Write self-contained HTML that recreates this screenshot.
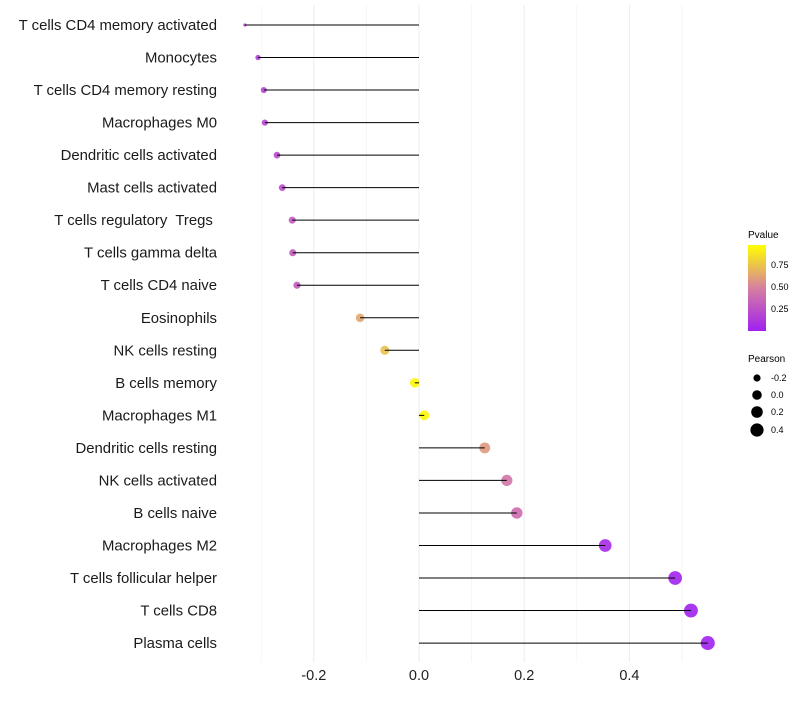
<!DOCTYPE html>
<html><head><meta charset="utf-8"><style>
body{margin:0;background:#fff;font-family:"Liberation Sans",sans-serif}
text{white-space:pre}
</style></head><body>
<svg id="chart" width="800" height="700" xmlns="http://www.w3.org/2000/svg">
<defs><linearGradient id="pg" x1="0" y1="1" x2="0" y2="0">
<stop offset="0" stop-color="#a020f0"/><stop offset="0.5" stop-color="#d680a0"/><stop offset="1" stop-color="#ffff00"/></linearGradient></defs>
<g id="grid"></g><g id="marks"></g><g id="labels"></g>
<g font-size="9">
<text x="748" y="238" font-size="10">Pvalue</text>
<rect x="748" y="245" width="18" height="86" fill="url(#pg)"/>
<text x="771" y="268">0.75</text>
<text x="771" y="290">0.50</text>
<text x="771" y="312">0.25</text>
</g>
<g font-size="9">
<text x="748" y="362" font-size="10">Pearson</text>
<circle cx="757" cy="378" r="3.6" fill="#000"/><text x="771" y="381">-0.2</text>
<circle cx="757" cy="395" r="4.8"/><text x="771" y="398">0.0</text>
<circle cx="757" cy="412" r="5.8"/><text x="771" y="415">0.2</text>
<circle cx="757" cy="430" r="6.6"/><text x="771" y="433">0.4</text>
</g>
</svg>
<script>
const cells=["T cells CD4 memory activated","Monocytes","T cells CD4 memory resting","Macrophages M0","Dendritic cells activated","Mast cells activated","T cells regulatory  Tregs ","T cells gamma delta","T cells CD4 naive","Eosinophils","NK cells resting","B cells memory","Macrophages M1","Dendritic cells resting","NK cells activated","B cells naive","Macrophages M2","T cells follicular helper","T cells CD8","Plasma cells"];
const pearson=[-0.331,-0.306,-0.295,-0.293,-0.270,-0.260,-0.241,-0.240,-0.232,-0.112,-0.065,-0.008,0.010,0.125,0.167,0.186,0.354,0.487,0.517,0.549];
const pvalue=[0.18,0.15,0.2,0.2,0.22,0.24,0.3,0.3,0.3,0.65,0.75,0.97,0.97,0.6,0.45,0.4,0.05,0.02,0.01,0.01];
const xTicks=[-0.2,0,0.2,0.4];
const xTickLabels=["-0.2","0.0","0.2","0.4"];
const minorTicks=[-0.3,-0.1,0.1,0.3,0.5];
const NS="http://www.w3.org/2000/svg";
const x=v=>419+v*526;
const y=i=>25+i*32.53;
const rad=v=>Math.sqrt(Math.max(2,23.8+47*v-Math.max(0,-0.29-v)*140));
function lerp(a,b,t){return a.map((c,i)=>Math.round(c+(b[i]-c)*t));}
function col(p){const s=[[160,32,240],[214,128,160],[255,255,0]];const c=p<0.5?lerp(s[0],s[1],p/0.5):lerp(s[1],s[2],(p-0.5)/0.5);return `rgb(${c})`;}
function mk(t,a,parent){const e=document.createElementNS(NS,t);for(const k in a)e.setAttribute(k,a[k]);parent.appendChild(e);return e;}
const grid=document.getElementById('grid'),marks=document.getElementById('marks'),labels=document.getElementById('labels');
minorTicks.forEach(v=>{const l=mk('line',{x1:x(v),x2:x(v),y1:5,y2:662,stroke:'#f0f0f0','stroke-width':0.6},grid);

});
xTicks.forEach((v,i)=>{const l=mk('line',{x1:x(v),x2:x(v),y1:5,y2:662,stroke:'#ebebeb','stroke-width':1},grid);


const t=mk('text',{x:x(v),y:680,'text-anchor':'middle','font-size':14.5,fill:'#222'},labels);t.textContent=xTickLabels[i];

});
cells.forEach((c,i)=>{
const t=mk('text',{x:217,y:y(i)+5,'text-anchor':'end','font-size':14.9,fill:'#1a1a1a'},labels);t.textContent=c;


const p=mk('circle',{cx:x(pearson[i]),cy:y(i),r:rad(pearson[i]),fill:col(pvalue[i]),'fill-opacity':0.9},marks);


const l=mk('line',{x1:x(0),x2:x(pearson[i]),y1:y(i),y2:y(i),stroke:'#000','stroke-width':1},marks);


});
</script>
</body></html>
